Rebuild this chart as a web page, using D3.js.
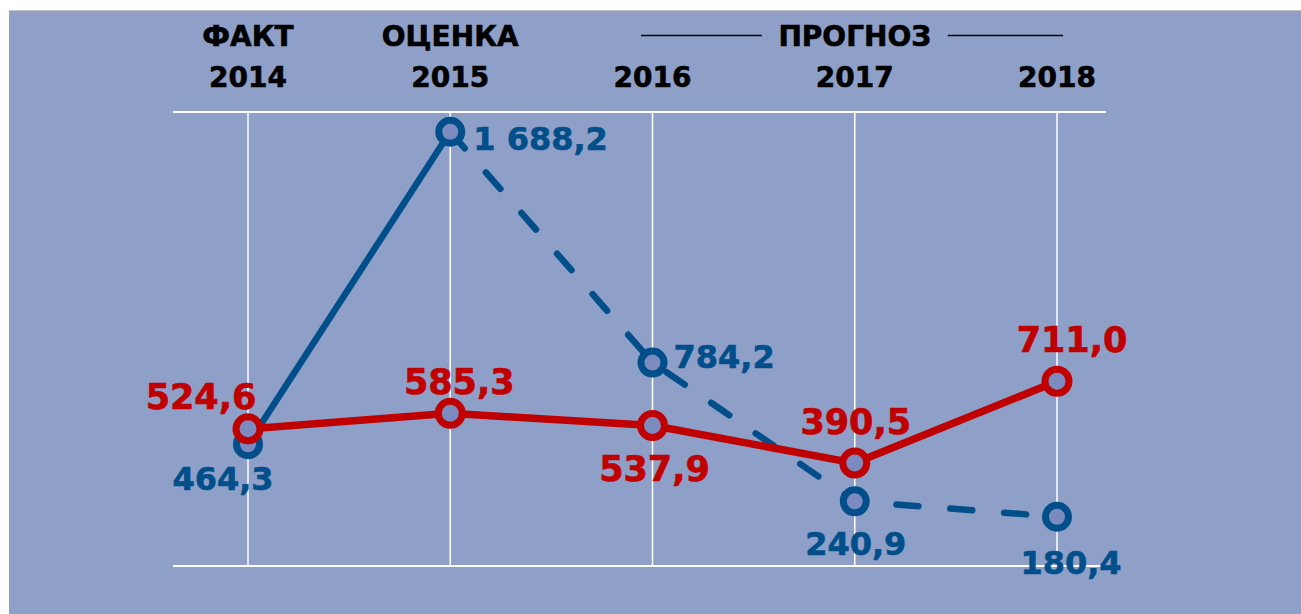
<!DOCTYPE html>
<html><head><meta charset="utf-8">
<script src="https://cdn.jsdelivr.net/npm/d3@7"></script>
<style>html,body{margin:0;padding:0;background:#fff;}svg{display:block;}</style>
</head><body>
<svg id="chart" width="1301" height="614"></svg>
<script>
// ---- data ----
const years = ["2014", "2015", "2016", "2017", "2018"];
const headers = ["ФАКТ", "ОЦЕНКА", "", "ПРОГНОЗ", ""];
const blueValues = [464.3, 1688.2, 784.2, 240.9, 180.4];
const redValues = [524.6, 585.3, 537.9, 390.5, 711.0];
const blueLabels = ["464,3", "1 688,2", "784,2", "240,9", "180,4"];
const redLabels = ["524,6", "585,3", "537,9", "390,5", "711,0"];
const yDomain = [-12.5, 1765.5];

// ---- styles ----
const BG = "#8fa0c8", BLUE = "#004f8a", RED = "#c00000", MFILL = "#7b8bbf";
const FONT = "'DejaVu Sans', Verdana, sans-serif";

const svg = d3.select("#chart");
svg.append("rect").attr("x", 9).attr("y", 10).attr("width", 1292).attr("height", 604).attr("fill", BG);
svg.append("line").attr("x1", 9).attr("x2", 1301).attr("y1", 10.5).attr("y2", 10.5).attr("stroke", "#c4c4c4").attr("stroke-width", 1);

const x = d3.scalePoint().domain(years).range([248, 1057]);
const y = d3.scaleLinear().domain(yDomain).range([566, 112]);

// grid
const g = svg.append("g");
g.selectAll("line.v").data(years).join("line").attr("class", "v")
  .attr("x1", d => x(d)).attr("x2", d => x(d)).attr("y1", y(yDomain[1])).attr("y2", y(yDomain[0]))
  .attr("stroke", "#fff").attr("stroke-width", 1.5);
g.selectAll("line.h").data(yDomain).join("line").attr("class", "h")
  .attr("x1", 173).attr("x2", 1106).attr("y1", d => y(d)).attr("y2", d => y(d))
  .attr("stroke", "#fff").attr("stroke-width", 2);

// headers
svg.selectAll("text.yr").data(years).join("text").attr("class", "yr")
  .attr("x", d => x(d)).attr("y", 87).attr("text-anchor", "middle")
  .attr("font-family", FONT).attr("font-weight", "bold").attr("font-size", 28).attr("fill", "#000")
  .attr("stroke", "#000").attr("stroke-width", 0.6)
  .text(d => d);
svg.selectAll("text.hd").data(years).join("text").attr("class", "hd")
  .attr("x", d => x(d)).attr("y", 46).attr("text-anchor", "middle")
  .attr("font-family", FONT).attr("font-weight", "bold").attr("font-size", 28).attr("fill", "#000")
  .attr("stroke", "#000").attr("stroke-width", 0.6)
  .text((d, i) => headers[i]);
// lines around ПРОГНОЗ
const px = x(years[3]);
svg.append("line").attr("x1", 641).attr("x2", px - 93).attr("y1", 35.5).attr("y2", 35.5).attr("stroke", "#000").attr("stroke-width", 1.5);
svg.append("line").attr("x1", px + 93).attr("x2", 1063).attr("y1", 35.5).attr("y2", 35.5).attr("stroke", "#000").attr("stroke-width", 1.5);

const line = d3.line().x(d => x(d.year)).y(d => y(d.v));
const blue = years.map((yr, i) => ({year: yr, v: blueValues[i]}));
const red = years.map((yr, i) => ({year: yr, v: redValues[i]}));

// blue series
svg.append("path").attr("d", line(blue.slice(0, 2))).attr("fill", "none")
  .attr("stroke", BLUE).attr("stroke-width", 6.5).attr("stroke-linecap", "round");
svg.append("path").attr("d", line(blue.slice(1))).attr("fill", "none")
  .attr("stroke", BLUE).attr("stroke-width", 6.5).attr("stroke-linecap", "round")
  .attr("stroke-dasharray", "22,32");
svg.selectAll("circle.b").data(blue).join("circle").attr("class", "b")
  .attr("cx", d => x(d.year)).attr("cy", d => y(d.v)).attr("r", 11.5)
  .attr("fill", MFILL).attr("stroke", BLUE).attr("stroke-width", 7);

// red series
svg.append("path").attr("d", line(red)).attr("fill", "none")
  .attr("stroke", RED).attr("stroke-width", 7.5).attr("stroke-linejoin", "round");
svg.selectAll("circle.r").data(red).join("circle").attr("class", "r")
  .attr("cx", d => x(d.year)).attr("cy", d => y(d.v)).attr("r", 12)
  .attr("fill", MFILL).attr("stroke", RED).attr("stroke-width", 7);

// labels: offsets relative to point
const blueOff = [[-25, 46, "middle"], [23, 18, "start"], [21, 5, "start"], [1, 54, "middle"], [14, 57, "middle"]];
const redOff = [[-47, -20, "middle"], [9, -19, "middle"], [2, 56, "middle"], [1, -29, "middle"], [15, -29, "middle"]];
svg.selectAll("text.bl").data(blue).join("text").attr("class", "bl")
  .attr("x", (d, i) => x(d.year) + blueOff[i][0]).attr("y", (d, i) => y(d.v) + blueOff[i][1])
  .attr("text-anchor", (d, i) => blueOff[i][2])
  .attr("font-family", FONT).attr("font-weight", "bold").attr("font-size", 32).attr("fill", BLUE)
  .attr("stroke", BLUE).attr("stroke-width", 0.6)
  .text((d, i) => blueLabels[i]);
svg.selectAll("text.rl").data(red).join("text").attr("class", "rl")
  .attr("x", (d, i) => x(d.year) + redOff[i][0]).attr("y", (d, i) => y(d.v) + redOff[i][1])
  .attr("text-anchor", (d, i) => redOff[i][2])
  .attr("font-family", FONT).attr("font-weight", "bold").attr("font-size", 35).attr("fill", RED)
  .attr("stroke", RED).attr("stroke-width", 0.7)
  .text((d, i) => redLabels[i]);
</script>
</body></html>
